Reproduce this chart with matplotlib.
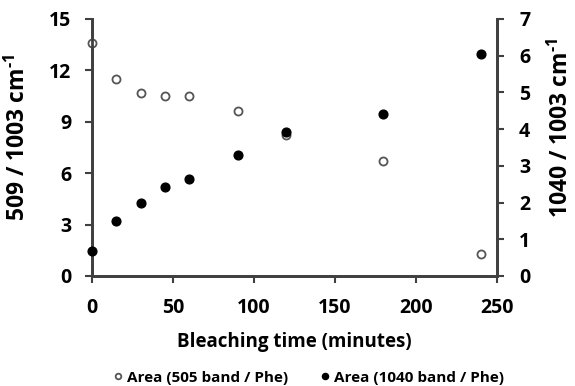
import numpy as np
import matplotlib.pyplot as plt

plt.rcParams['font.family'] = ['Open Sans', 'DejaVu Sans']
plt.rcParams['font.weight'] = 'bold'
plt.rcParams['mathtext.fontset'] = 'custom'
plt.rcParams['mathtext.rm'] = 'Open Sans:bold'
plt.rcParams['mathtext.bf'] = 'Open Sans:bold'

time_min = [0, 15, 30, 45, 60, 90, 120, 180, 240]
ratio_505 = [13.6, 11.5, 10.65, 10.5, 10.5, 9.6, 8.25, 6.7, 1.3]
ratio_1040 = [0.68, 1.5, 2.0, 2.42, 2.63, 3.3, 3.92, 4.4, 6.05]

xticks = [0, 50, 100, 150, 200, 250]
yticks_left = [0, 3, 6, 9, 12, 15]
yticks_right = [0, 1, 2, 3, 4, 5, 6, 7]

spine_col = '#404040'

fig = plt.figure(figsize=(5.75, 3.86), dpi=100)
ax = fig.add_axes([0.16, 0.285, 0.704, 0.666])
ax2 = ax.twinx()

h1, = ax.plot(time_min, ratio_505, 'o', mfc='white', mec='#555555', mew=1.3, ms=5.8,
              linestyle='none', clip_on=False, zorder=5)
h2, = ax2.plot(time_min, ratio_1040, 'o', color='black', ms=6.3,
               linestyle='none', clip_on=False, zorder=5)

ax.set_xlim(0, 250)
ax.set_ylim(0, 15)
ax2.set_ylim(0, 7)
ax.set_xticks(xticks)
ax.set_yticks(yticks_left)
ax2.set_yticks(yticks_right)

for a in (ax, ax2):
    a.spines['top'].set_visible(False)
    for s in a.spines.values():
        s.set_color(spine_col)
        s.set_linewidth(2)
    a.tick_params(width=1.5, length=5, color=spine_col, labelsize=14, pad=5)
ax.tick_params(axis='x', pad=11)
ax.tick_params(axis='y', pad=10)
ax2.tick_params(axis='y', pad=11)

ax.set_xlabel('Bleaching time (minutes)', fontsize=13.5, fontweight='bold', labelpad=10)
ax.set_ylabel('509 / 1003 cm$^{\\text{-1}}$', fontsize=16.5, fontweight='bold')
ax2.set_ylabel('1040 / 1003 cm$^{\\text{-1}}$', fontsize=16.5, fontweight='bold')
ax.yaxis.set_label_coords(-0.15, 0.54)
ax2.yaxis.set_label_coords(1.127, 0.575)

fig.legend([h1, h2], ['Area (505 band / Phe)', 'Area (1040 band / Phe)'],
           loc='center', bbox_to_anchor=(0.533, 0.022), ncol=2, frameon=False,
           handletextpad=0.0, columnspacing=1.8, markerscale=0.7, handlelength=1.2,
           prop={'weight': 'bold', 'size': 11})

fig.savefig('out.png', dpi=100)
